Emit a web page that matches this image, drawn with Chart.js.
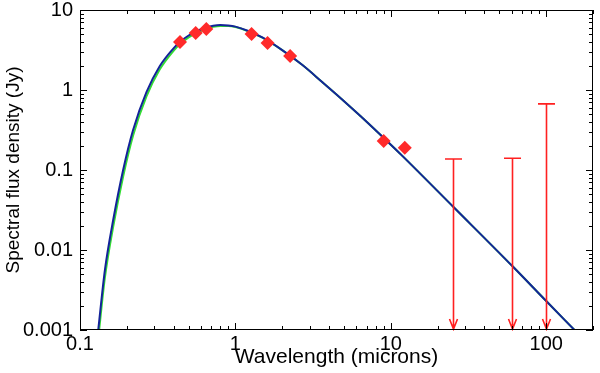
<!DOCTYPE html>
<html><head><meta charset="utf-8">
<script src="https://cdn.jsdelivr.net/npm/chart.js@4"></script>
<style>html,body{margin:0;padding:0;background:#fff}#wrap{width:600px;height:373px}</style>
</head><body><div id="wrap"><canvas id="c" width="600" height="373"></canvas></div>
<script>
// Model SED curves
const modelWavelengths = [0.131, 0.1446, 0.1635, 0.1895, 0.2196, 0.2677, 0.3256, 0.396, 0.44, 0.50, 0.56, 0.64, 0.72, 0.80, 0.90, 1.0, 1.2, 1.5, 2.0, 2.7, 3.6, 4.8, 6.4, 8.5, 12, 25.4, 60.5, 100, 152];
const modelBlue  = [0.001, 0.00562, 0.0237, 0.1, 0.316, 0.94, 1.98, 3.25, 4.0, 4.8, 5.4, 5.95, 6.35, 6.5, 6.42, 6.2, 5.5, 4.5, 3.15, 2.05, 1.27, 0.78, 0.47, 0.28, 0.147, 0.0342, 0.0063, 0.0023, 0.001];
const modelGreen = [0.00078, 0.0045, 0.0195, 0.083, 0.27, 0.83, 1.8, 3.02, 3.75, 4.55, 5.15, 5.75, 6.15, 6.32, 6.3, 6.12, 5.45, 4.48, 3.15, 2.05, 1.27, 0.78, 0.47, 0.28, 0.147, 0.0342, 0.0063, 0.0023, 0.001];
// Photometry
const photWavelengths = [0.44, 0.555, 0.65, 1.27, 1.61, 2.25, 9.0, 12.3];
const photFlux = [3.98, 5.16, 5.8, 5.0, 3.87, 2.66, 0.23, 0.19];
// Upper limits
const limitWavelengths = [25, 60, 100];
const limitFlux = [0.137, 0.14, 0.67];
// Tick labels
const xTickLabels = ['0.1', '1', '10', '100'];
const yTickLabels = ['0.001', '0.01', '0.1', '1', '10'];

const FONT = 'Liberation Sans, Arial, Helvetica, sans-serif';
const mk = (xs, ys) => xs.map((x, i) => ({x: x, y: ys[i]}));

const framePlugin = {
  id: 'frame',
  afterDatasetsDraw(chart) {
    const {ctx, chartArea: a, scales: {x, y}} = chart;
    ctx.save();
    // upper limits
    ctx.strokeStyle = '#ff2020';
    ctx.lineWidth = 1.6;
    limitWavelengths.forEach((w, i) => {
      const px = Math.round(x.getPixelForValue(w)) + 0.5;
      const pt = y.getPixelForValue(limitFlux[i]);
      const pb = y.getPixelForValue(y.min) - 1;
      ctx.beginPath();
      ctx.moveTo(px, pt); ctx.lineTo(px, pb);
      ctx.moveTo(px - 8.5, pt); ctx.lineTo(px + 8.5, pt);
      ctx.moveTo(px - 4, pb - 10); ctx.lineTo(px, pb); ctx.lineTo(px + 4, pb - 10);
      ctx.stroke();
    });
    // frame
    ctx.strokeStyle = '#000';
    ctx.lineWidth = 1;
    ctx.strokeRect(a.left + 0.5, a.top + 0.5, a.right - a.left - 1, a.bottom - a.top - 1);
    // ticks
    const maj = 7, mnr = 4;
    ctx.beginPath();
    for (let e = -1; e <= 2; e++) {
      for (let m = 1; m <= 9; m++) {
        const v = m * Math.pow(10, e);
        if (v > x.max * 1.0001) continue;
        const px = Math.round(x.getPixelForValue(v)) + 0.5;
        const L = m === 1 ? maj : mnr;
        ctx.moveTo(px, a.bottom); ctx.lineTo(px, a.bottom - L);
        ctx.moveTo(px, a.top); ctx.lineTo(px, a.top + L);
      }
    }
    for (let e = -3; e <= 1; e++) {
      for (let m = 1; m <= 9; m++) {
        const v = m * Math.pow(10, e);
        if (v > y.max * 1.0001) continue;
        const py = Math.round(y.getPixelForValue(v)) + 0.5;
        const L = m === 1 ? maj : mnr;
        ctx.moveTo(a.left, py); ctx.lineTo(a.left + L, py);
        ctx.moveTo(a.right, py); ctx.lineTo(a.right - L, py);
      }
    }
    ctx.stroke();
    ctx.restore();
  }
};

new Chart(document.getElementById('c'), {
  type: 'scatter',
  data: {
    datasets: [
      {label: 'Photometry', data: mk(photWavelengths, photFlux), pointStyle: 'rectRot', pointRadius: 7,
       backgroundColor: '#ff2a2a', borderColor: '#ff2a2a', borderWidth: 0, order: 0},
      {label: 'Model 1', data: mk(modelWavelengths, modelBlue), showLine: true, pointRadius: 0,
       borderColor: '#14239a', borderWidth: 2, cubicInterpolationMode: 'monotone', order: 1},
      {label: 'Model 2', data: mk(modelWavelengths, modelGreen), showLine: true, pointRadius: 0,
       borderColor: '#33dd33', borderWidth: 2, cubicInterpolationMode: 'monotone', order: 2}
    ]
  },
  options: {
    responsive: false, animation: false, devicePixelRatio: 1,
    layout: {padding: {top: 10, right: 4, left: 0, bottom: 0}},
    plugins: {legend: {display: false}, tooltip: {enabled: false}},
    scales: {
      x: {
        type: 'logarithmic', min: 0.1, max: 200,
        grid: {display: false, drawTicks: false}, border: {display: false},
        afterBuildTicks: s => { s.ticks = xTickLabels.map(t => ({value: parseFloat(t)})); },
        afterFit: s => { s.height = 43; s.paddingLeft = 0; s.paddingRight = 0; },
        ticks: {callback: (v, i) => xTickLabels[i], font: {family: FONT, size: 20}, color: '#000',
                padding: 2, maxRotation: 0, autoSkip: false},
        title: {display: true, text: 'Wavelength (microns)', font: {family: FONT, size: 21}, color: '#000',
                padding: {top: 0, bottom: 3}}
      },
      y: {
        type: 'logarithmic', min: 0.001, max: 10,
        grid: {display: false, drawTicks: false}, border: {display: false},
        afterBuildTicks: s => { s.ticks = yTickLabels.map(t => ({value: parseFloat(t)})); },
        afterFit: s => { s.width = 80; s.paddingTop = 0; s.paddingBottom = 0; },
        ticks: {callback: (v, i) => yTickLabels[i], font: {family: FONT, size: 20}, color: '#000',
                padding: 7, autoSkip: false},
        title: {display: true, text: 'Spectral flux density (Jy)', font: {family: FONT, size: 19}, color: '#000',
                padding: {top: 2, bottom: 0}}
      }
    }
  },
  plugins: [framePlugin]
});
</script>
</body></html>
